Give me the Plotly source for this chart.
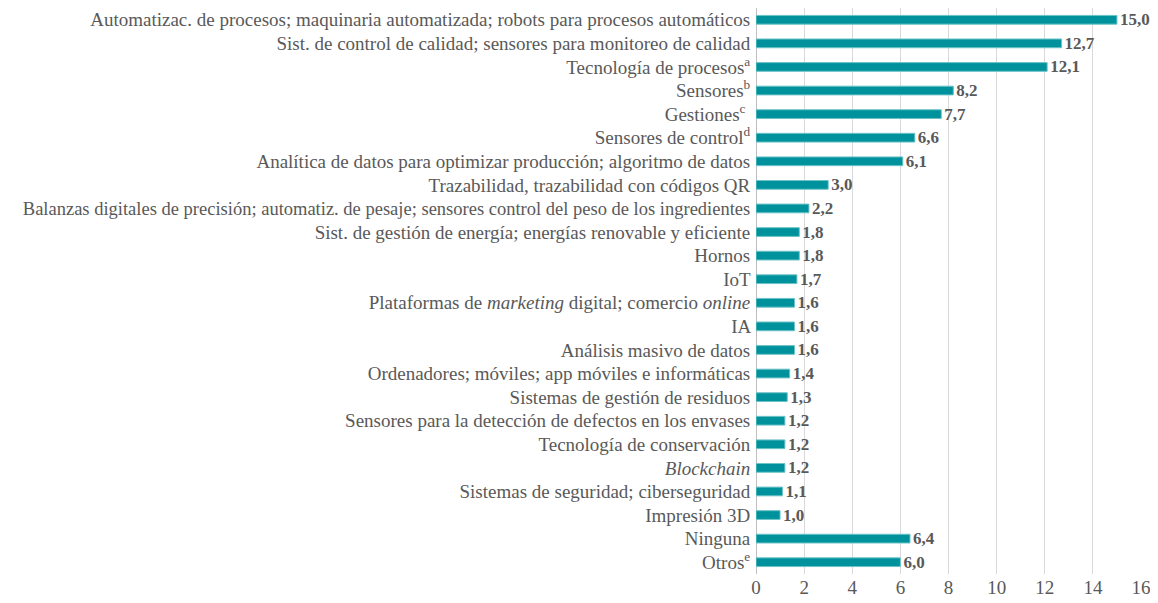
import plotly.graph_objects as go

# Data
categories = [
    "Automatizac. de procesos; maquinaria automatizada; robots para procesos automáticos",
    "Sist. de control de calidad; sensores para monitoreo de calidad",
    "Tecnología de procesos<sup>a</sup>",
    "Sensores<sup>b</sup>",
    "Gestiones<sup>c</sup> ",
    "Sensores de control<sup>d</sup>",
    "Analítica de datos para optimizar producción; algoritmo de datos",
    "Trazabilidad, trazabilidad con códigos QR",
    "<span style='font-size:18.5px'>Balanzas digitales de precisión; automatiz. de pesaje; "
    "sensores control del peso de los ingredientes</span>",
    "Sist. de gestión de energía; energías renovable y eficiente",
    "Hornos",
    "IoT",
    "Plataformas de <i>marketing</i> digital; comercio <i>online</i>",
    "IA",
    "Análisis masivo de datos",
    "Ordenadores; móviles; app móviles e informáticas",
    "Sistemas de gestión de residuos",
    "Sensores para la detección de defectos en los envases",
    "Tecnología de conservación",
    "<i>Blockchain</i>",
    "Sistemas de seguridad; ciberseguridad",
    "Impresión 3D",
    "Ninguna",
    "Otros<sup>e</sup>",
]
values = [15.0, 12.7, 12.1, 8.2, 7.7, 6.6, 6.1, 3.0, 2.2, 1.8, 1.8, 1.7, 1.6,
          1.6, 1.6, 1.4, 1.3, 1.2, 1.2, 1.2, 1.1, 1.0, 6.4, 6.0]
x_ticks = [0, 2, 4, 6, 8, 10, 12, 14, 16]

font_family = "Liberation Serif"
text_grey = "#595959"

fig = go.Figure(go.Bar(
    x=values,
    y=categories,
    orientation="h",
    width=0.37,
    marker=dict(color="#00929c", line=dict(color="#6cc3c8", width=1)),
    texttemplate="<b>%{x:.1f}</b>",
    textposition="outside",
    constraintext="none",
    cliponaxis=False,
    textfont=dict(family=font_family, size=17, color=text_grey),
))

# page body has an 8px margin, so the figure is a bit smaller than the window
fig.update_layout(
    width=1150, height=595,
    margin=dict(l=748, r=17, t=0, b=29),
    plot_bgcolor="white",
    paper_bgcolor="white",
    separators=",.",
    showlegend=False,
    font=dict(family=font_family, size=19, color=text_grey),
)
fig.update_xaxes(
    range=[0, 16], tickvals=x_ticks,
    showgrid=True, gridcolor="#d9d9d9", gridwidth=1,
    zeroline=True, zerolinecolor="#bfbfbf", zerolinewidth=1,
    showline=False, ticks="",
    tickfont=dict(family=font_family, size=19, color=text_grey),
)
fig.update_yaxes(
    autorange="reversed", showgrid=False, ticks="", showline=False,
    ticksuffix=" ", automargin=False,
    tickfont=dict(family=font_family, size=19, color=text_grey),
)

fig.write_html("out.html")
